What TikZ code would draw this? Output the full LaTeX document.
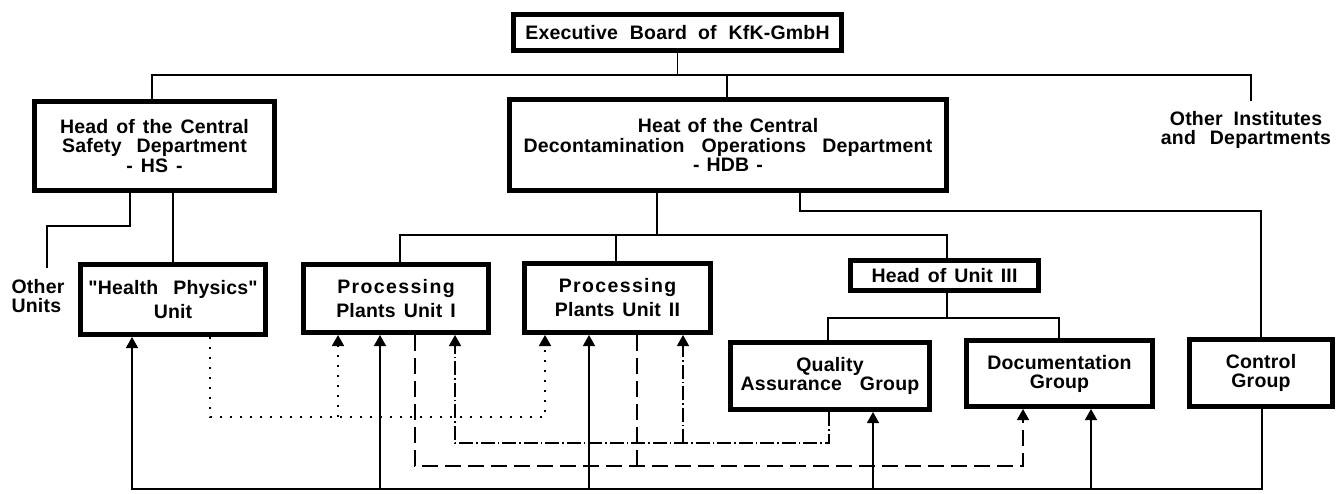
\documentclass[tikz,border=0pt]{standalone}
\usepackage{fontspec}
\setmainfont{Liberation Sans}[LetterSpace=1, Ligatures=TeXOff]
\usetikzlibrary{arrows.meta}
\newcommand{\nf}[1]{\fontsize{19.5}{#1}\selectfont\bfseries\spaceskip=8pt\relax}
\newcommand{\nfh}{\fontsize{19.5}{19.5}\selectfont\bfseries\spaceskip=7pt\relax}
\newcommand{\G}[1]{\hspace*{#1pt}}
\newcommand{\Q}{{\char34}}
\newcommand{\Proc}{{\addfontfeatures{LetterSpace=7}Processing}}
\begin{document}
\begin{tikzpicture}[x=1pt,y=-1pt,
  every node/.style={font=\nf{19.5}},
  box/.style={draw, line width=5pt, inner sep=0pt, align=center},
  conn/.style={line width=1.4pt},
  tip/.style={-{Triangle[width=12pt,length=11pt]}},
  dotl/.style={line width=1.7pt, dash pattern=on 1.7pt off 8.3pt},
  dashdot/.style={line width=1.4pt, dash pattern=on 14pt off 3pt on 1.5pt off 3pt},
  dashl/.style={line width=1.4pt, dash pattern=on 16pt off 7pt},
]
\fill[white] (0,0) rectangle (1344,493);
\useasboundingbox (0,0) rectangle (1344,493);

% boxes
\node[box, minimum width=328pt, minimum height=36pt] (exec) at (677.5,32.5) {Executive\G{12}Board\G{11}of\G{12}KfK-GmbH};
\node[box, minimum width=240pt, minimum height=89pt] (hs) at (154.5,146) {Head of the Central\\Safety\G{15}Department\\- HS -};
\node[box, minimum width=437pt, minimum height=91pt, font=\nfh] (hdb) at (728,145) {Heat of the Central\\Decontamination\G{17}Operations\G{16}Department\\- HDB -};
\node[align=center, inner sep=0pt, outer ysep=10pt] (oi) at (1246,130) {Other\G{11}Institutes\\and\G{14}Departments};
\node[align=left, inner sep=0pt, outer ysep=12pt, font=\nf{18.5}] (ou) at (38,296) {Other\\Units};
\node[box, minimum width=185pt, minimum height=70pt, font=\nf{24}] (hp) at (173,299.5) {\Q Health\G{15}Physics\Q\\Unit};
\node[box, minimum width=185pt, minimum height=68pt, font=\nf{24}] (pp1) at (396,298.5) {\Proc\\Plants Unit I};
\node[box, minimum width=186pt, minimum height=69pt, font=\nf{24}] (pp2) at (617.5,298) {\Proc\\Plants Unit II};
\node[box, minimum width=188pt, minimum height=30pt] (hou3) at (944.5,275.5) {Head of Unit III};
\node[box, minimum width=199pt, minimum height=67pt, font=\nf{19}] (qa) at (830,376) {Quality\\Assurance\G{18}Group};
\node[box, minimum width=186pt, minimum height=66pt, font=\nf{19}] (doc) at (1059.5,373.5) {Documentation\\Group};
\node[box, minimum width=143pt, minimum height=67pt, font=\nf{19}] (ctrl) at (1261,373) {Control\\Group};

% top bus
\draw[conn] (exec.south) -- (exec.south |- 0,75);
\draw[conn] (152,0 |- hs.north) |- (1251,75) -- (1251,0 |- oi.north);
\draw[conn] (727,0 |- hdb.north) -- (727,75);

% HS branches
\draw[conn] (130,0 |- hs.south) |- (47,226) -- (47,0 |- ou.north);
\draw[conn] (hs.south -| hp.north) -- (hp.north);

% HDB branches
\draw[conn] (657,0 |- hdb.south) -- (657,235);
\draw[conn] (400,0 |- pp1.north) |- (947,235) -- (947,0 |- hou3.north);
\draw[conn] (616,0 |- pp2.north) -- (616,235);
\draw[conn] (800,0 |- hdb.south) |- (1261,211) -- (1261,0 |- ctrl.north);

% Unit III branches
\draw[conn] (947,0 |- hou3.south) -- (947,318);
\draw[conn] (828,0 |- qa.north) |- (1059,318) -- (1059,0 |- doc.north);

% bottom solid bus from control group
\draw[conn,tip] (1262,0 |- ctrl.south) |- (132,489) -- (132,0 |- hp.south);
\draw[conn,tip] (380,489) -- (380,0 |- pp1.south);
\draw[conn,tip] (589,489) -- (589,0 |- pp2.south);
\draw[conn,tip] (873,489) -- (873,0 |- qa.south);
\draw[conn,tip] (1091,489) -- (1091,0 |- doc.south);

% dotted from health physics
\draw[dotl,tip] (210,0 |- hp.south) |- (545,417) -- (545,0 |- pp2.south);
\draw[dotl,tip] (338,417) -- (338,0 |- pp1.south);

% dash-dot from quality assurance
\draw[dashdot,tip] (829,0 |- qa.south) |- (455,443) -- (455,0 |- pp1.south);
\draw[dashdot,tip] (683,443) -- (683,0 |- pp2.south);

% dashed from processing plants to documentation
\draw[dashl,tip] (415,0 |- pp1.south) |- (1023,466) -- (1023,0 |- doc.south);
\draw[dashl] (637,0 |- pp2.south) -- (637,466);
\end{tikzpicture}
\end{document}
